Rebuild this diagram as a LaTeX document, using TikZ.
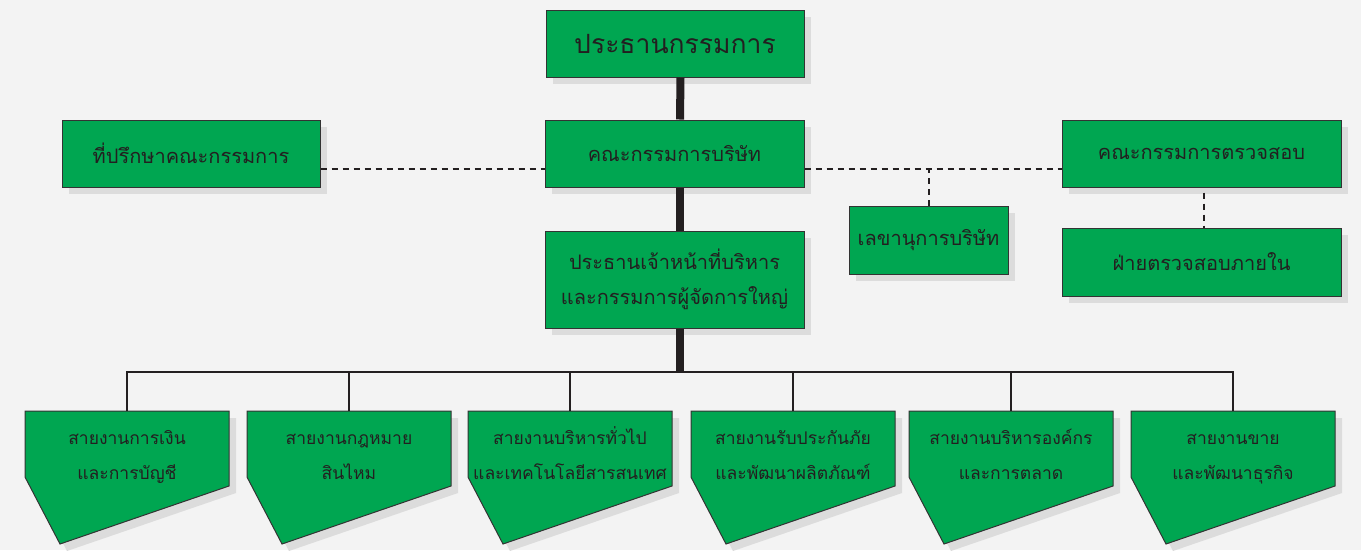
\documentclass[tikz,border=0pt]{standalone}
\usepackage{fontspec}
\newfontfamily\thaifont[Script=Thai]{Loma}
\usetikzlibrary{shadows}
\definecolor{bggray}{HTML}{F3F3F3}
\definecolor{boxgreen}{HTML}{00A651}
\definecolor{boxline}{HTML}{333333}
\definecolor{shadowgray}{HTML}{DCDCDC}
\definecolor{linedark}{HTML}{231F20}
\tikzset{
  box/.style={draw=boxline, fill=boxgreen, line width=1pt, inner sep=0pt,
    align=center, text=linedark,
    font=\thaifont\fontsize{20}{35}\selectfont,
    drop shadow={shadow xshift=7pt, shadow yshift=-7pt, fill=shadowgray, opacity=1}},
  divbox/.style={draw=boxline, fill=boxgreen, line width=1pt, line join=miter,
    drop shadow={shadow xshift=7pt, shadow yshift=-7pt, fill=shadowgray, opacity=1}},
  divtext/.style={inner sep=0pt, align=center, text=linedark,
    font=\thaifont\fontsize{17.5}{35}\selectfont},
  thickline/.style={draw=linedark, line width=8pt},
  thinline/.style={draw=linedark, line width=1.5pt},
  dashline/.style={draw=linedark, line width=2pt, dash pattern=on 6pt off 5pt},
}
\begin{document}
\begin{tikzpicture}[x=1pt,y=-1pt]
%background
\fill[bggray] (0,0) rectangle (1361,550);
\useasboundingbox (0,0) rectangle (1361,550);
%top of the chart
\node[box, minimum width=258pt, minimum height=67pt, font=\thaifont\fontsize{26.5}{34}\selectfont] (chair) at (675,43.5) {ประธานกรรมการ};
\node[box, minimum width=259pt, minimum height=67pt] (board) at (674.5,153.5) {คณะกรรมการบริษัท};
\node[box, minimum width=258pt, minimum height=67pt] (adv) at (191,153.5) {ที่ปรึกษาคณะกรรมการ};
\node[box, minimum width=279pt, minimum height=67pt] (audit) at (1201.5,153.5) {คณะกรรมการตรวจสอบ};
\node[box, minimum width=159pt, minimum height=68pt] (sec) at (928.5,240) {เลขานุการบริษัท};
\node[box, minimum width=279pt, minimum height=68pt] (iaudit) at (1201.5,262) {ฝ่ายตรวจสอบภายใน};
\node[box, minimum width=259pt, minimum height=97pt] (ceo) at (674.5,279.5) {ประธานเจ้าหน้าที่บริหาร\\และกรรมการผู้จัดการใหญ่};
%main spine
\draw[thickline] ([xshift=5.5pt]chair.south) -- ([xshift=5.5pt]board.north);
\draw[thickline] ([xshift=5.5pt]board.south) -- ([xshift=5.5pt]ceo.north);
%dashed links
\draw[dashline] ([yshift=-15.5pt]adv.east) -- ([yshift=-15.5pt]board.west);
\draw[dashline] ([yshift=-15.5pt]board.east) -- ([yshift=-15.5pt]audit.west);
\draw[dashline] (sec.north) -- ([yshift=-15.5pt]board.east -| sec.north);
\draw[dashline] ([xshift=2.5pt,yshift=-5pt]audit.south) -- ([xshift=2.5pt]iaudit.north);
%divisions
\foreach \L/\n/\la/\lb in {25/fin/สายงานการเงิน/และการบัญชี, 247/law/สายงานกฎหมาย/สินไหม, 468/adm/สายงานบริหารทั่วไป/และเทคโนโลยีสารสนเทศ, 691/und/สายงานรับประกันภัย/และพัฒนาผลิตภัณฑ์, 909/org/สายงานบริหารองค์กร/และการตลาด, 1131/sal/สายงานขาย/และพัฒนาธุรกิจ}{
\draw[divbox] (\L,411) -- ++(204,0) -- ++(0,75) -- (\L+35,544) -- (\L,477) -- cycle;
\node[divtext] (\n) at (\L+102,455) {\strut\la\\\strut\lb};
\coordinate (top\n) at (\L+102,411);
}
%bus
\coordinate (bus) at (680,372);
\draw[thickline] ([xshift=5.5pt]ceo.south) -- (bus);
\draw[thinline] (topfin) |- (bus) -| (topsal);
\foreach \n in {law,adm,und,org}{
\draw[thinline] (top\n) -- (top\n |- bus);
}
\end{tikzpicture}
\end{document}
